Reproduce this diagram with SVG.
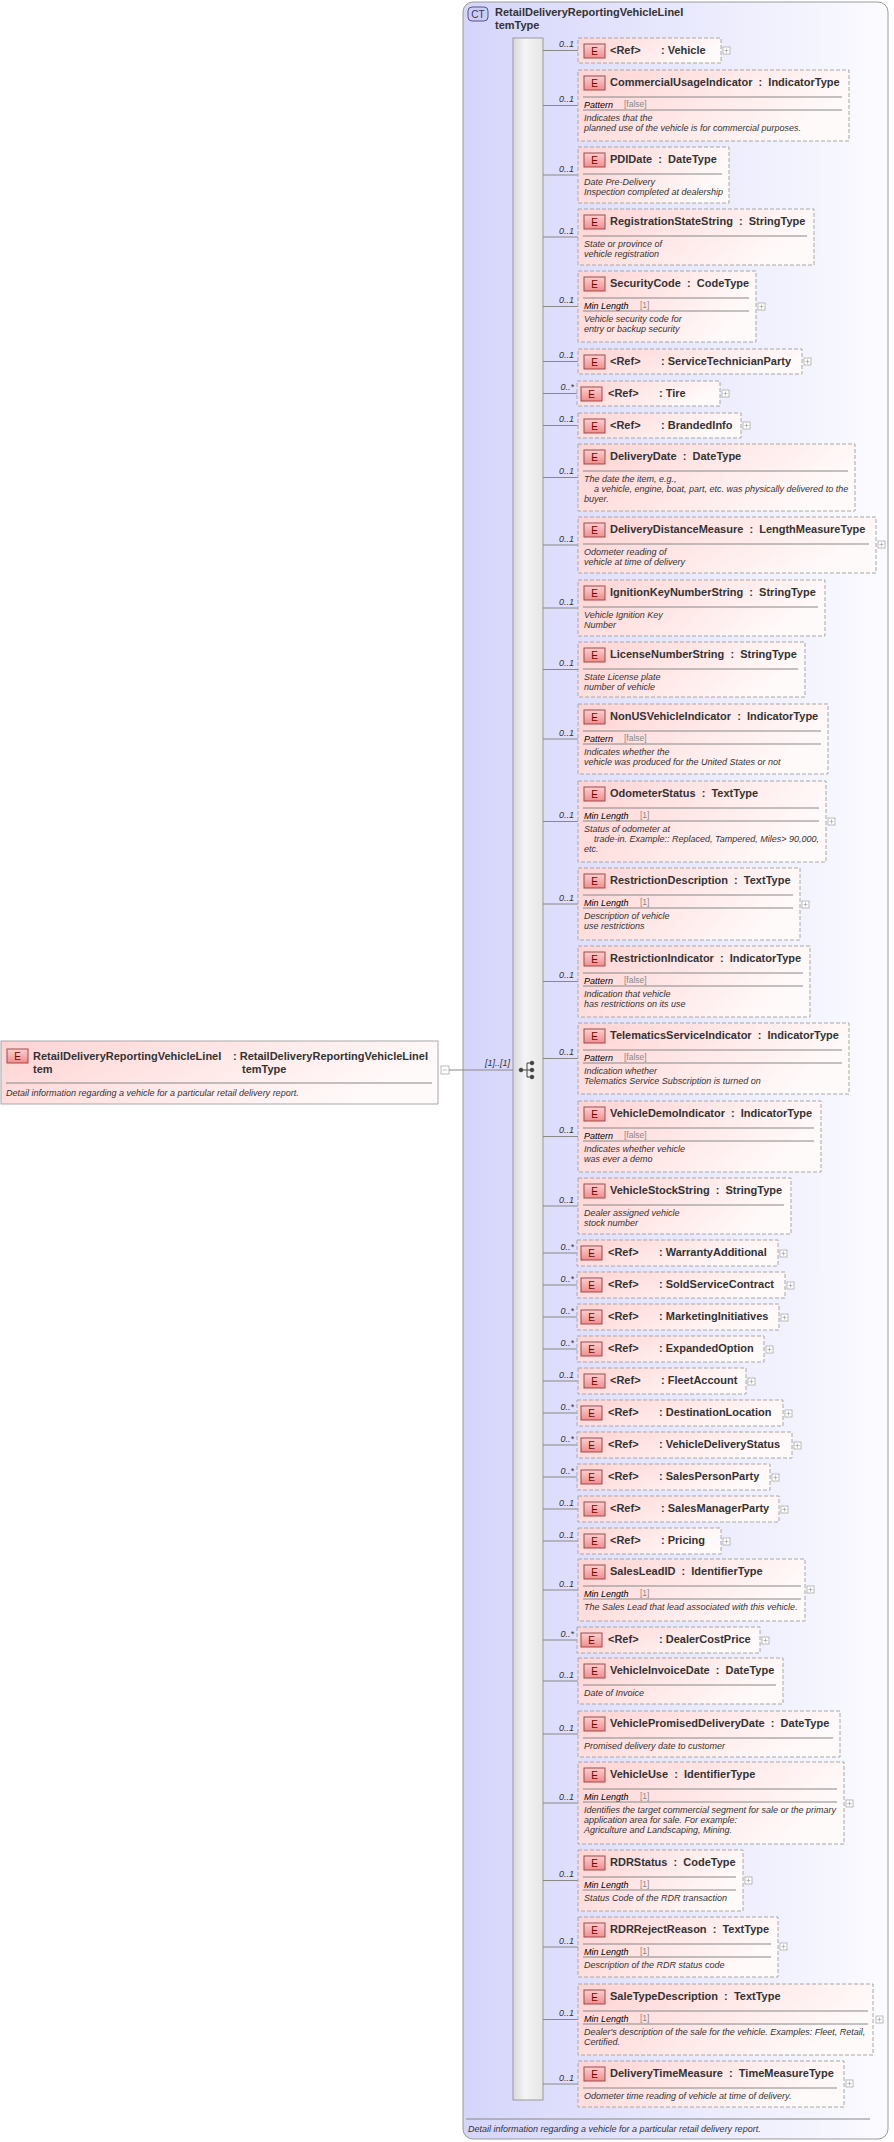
<svg xmlns="http://www.w3.org/2000/svg" width="894" height="2142" viewBox="0 0 894 2142">
<defs>
<linearGradient id="gb" x1="0" y1="0" x2="1" y2="0.3"><stop offset="0" stop-color="#ffd3d3"/><stop offset="1" stop-color="#fffafa"/></linearGradient>
<linearGradient id="ge" x1="0" y1="0" x2="0" y2="1"><stop offset="0" stop-color="#fbd0d0"/><stop offset="1" stop-color="#f08e8e"/></linearGradient>
<linearGradient id="gc" x1="0" y1="0" x2="1" y2="0"><stop offset="0" stop-color="#d5d5fb"/><stop offset="1" stop-color="#fbfbff"/></linearGradient>
<linearGradient id="gs" x1="0" y1="0" x2="1" y2="0"><stop offset="0" stop-color="#d8d8d8"/><stop offset="0.4" stop-color="#f4f4f4"/><stop offset="1" stop-color="#e6e6e6"/></linearGradient>
</defs>
<style>
text{font-family:"Liberation Sans",Arial,sans-serif;white-space:pre}
.bx{fill:url(#gb);stroke:#a8a8a8;stroke-dasharray:4,2;stroke-width:1}
.eb{fill:url(#ge);stroke:#a04848;stroke-width:1}
.e{font-size:10px;fill:#700;text-anchor:middle}
.t{font-size:11px;font-weight:bold;fill:#333}
.d{font-size:9px;font-style:italic;fill:#333}
.f{font-size:9px;font-style:italic;fill:#000}
.fv{font-size:8.5px;fill:#888}
.sp{stroke:#888;stroke-width:1}
.m{font-size:9px;font-style:italic;fill:#333;text-anchor:end}
.cn{stroke:#888;stroke-width:1;fill:none}
.pl{fill:#fff;stroke:#aaa;stroke-width:0.8}
.pp{stroke:#aaa;stroke-width:0.8}
</style>
<g id="ct">
<rect x="463" y="2" width="425" height="2137" rx="10" fill="url(#gc)" stroke="#9a9a9a"/>
<rect x="468" y="7" width="20" height="14" rx="4" fill="#ccccf5" stroke="#55558a"/>
<text x="478" y="18" font-size="10" fill="#33336a" text-anchor="middle">CT</text>
<text class="t" x="495" y="16">RetailDeliveryReportingVehicleLineI</text>
<text class="t" x="495" y="29">temType</text>
<line class="sp" x1="466" y1="2119" x2="870" y2="2119"/>
<text class="d" x="468" y="2132">Detail information regarding a vehicle for a particular retail delivery report.</text>
<rect x="513" y="38" width="30" height="2062" fill="url(#gs)" stroke="#999"/>
</g>
<g id="root">
<rect x="1" y="1041" width="437" height="63" fill="url(#gb)" stroke="#a8a8a8"/>
<rect class="eb" x="7" y="1049" width="21" height="14"/><text class="e" x="17.5" y="1060">E</text>
<text class="t" x="33" y="1060">RetailDeliveryReportingVehicleLineI</text>
<text class="t" x="33" y="1073">tem</text>
<text class="t" x="233" y="1060">: RetailDeliveryReportingVehicleLineI</text>
<text class="t" x="242" y="1073">temType</text>
<line class="sp" x1="6" y1="1083" x2="432" y2="1083"/>
<text class="d" x="6" y="1096">Detail information regarding a vehicle for a particular retail delivery report.</text>
<rect class="pl" x="441" y="1066" width="8" height="8"/><line class="pp" x1="443" y1="1070" x2="447" y2="1070"/>
</g>
<g id="connectors">
<line class="cn" x1="449" y1="1070" x2="513" y2="1070"/>
<text class="m" x="510" y="1066">[1]..[1]</text>
<g id="seq" fill="#444" stroke="#444">
<circle cx="521" cy="1070" r="1.8"/><line x1="521" y1="1070" x2="527" y2="1070"/><line x1="527" y1="1063" x2="527" y2="1077"/>
<line x1="527" y1="1063" x2="531" y2="1063"/><line x1="527" y1="1077" x2="531" y2="1077"/><line x1="527" y1="1070" x2="531" y2="1070"/>
<circle cx="532" cy="1063" r="1.8"/><circle cx="532" cy="1070" r="1.8"/><circle cx="532" cy="1077" r="1.8"/>
</g>
<path class="cn" d="M543 50.5H578M543 105.5H578M543 175H578M543 237H578M543 306.5H578M543 361.5H578M543 393.5H577M543 425.5H578M543 477.5H578M543 545H578M543 608H578M543 669.5H578M543 739H578M543 821.5H578M543 904H578M543 981.5H578M543 1058.5H578M543 1136.5H578M543 1206H578M543 1253H577M543 1285H577M543 1317H577M543 1349H577M543 1381H578M543 1413H577M543 1445H577M543 1477H577M543 1509H578M543 1541H578M543 1590H578M543 1640H577M543 1681H578M543 1734H578M543 1803H578M543 1880.5H578M543 1947H578M543 2019.5H578M543 2084H578"/>
<text class="m" x="574" y="47">0..1</text><text class="m" x="574" y="102">0..1</text><text class="m" x="574" y="172">0..1</text><text class="m" x="574" y="234">0..1</text><text class="m" x="574" y="303">0..1</text><text class="m" x="574" y="358">0..1</text><text class="m" x="574" y="390">0..*</text><text class="m" x="574" y="422">0..1</text><text class="m" x="574" y="474">0..1</text><text class="m" x="574" y="542">0..1</text><text class="m" x="574" y="605">0..1</text><text class="m" x="574" y="666">0..1</text><text class="m" x="574" y="736">0..1</text><text class="m" x="574" y="818">0..1</text><text class="m" x="574" y="901">0..1</text><text class="m" x="574" y="978">0..1</text><text class="m" x="574" y="1055">0..1</text><text class="m" x="574" y="1133">0..1</text><text class="m" x="574" y="1203">0..1</text><text class="m" x="574" y="1250">0..*</text><text class="m" x="574" y="1282">0..*</text><text class="m" x="574" y="1314">0..*</text><text class="m" x="574" y="1346">0..*</text><text class="m" x="574" y="1378">0..1</text><text class="m" x="574" y="1410">0..*</text><text class="m" x="574" y="1442">0..*</text><text class="m" x="574" y="1474">0..*</text><text class="m" x="574" y="1506">0..1</text><text class="m" x="574" y="1538">0..1</text><text class="m" x="574" y="1587">0..1</text><text class="m" x="574" y="1637">0..*</text><text class="m" x="574" y="1678">0..1</text><text class="m" x="574" y="1731">0..1</text><text class="m" x="574" y="1800">0..1</text><text class="m" x="574" y="1877">0..1</text><text class="m" x="574" y="1944">0..1</text><text class="m" x="574" y="2016">0..1</text><text class="m" x="574" y="2081">0..1</text>
</g>
<g id="n1"><rect class="bx" x="578" y="38" width="143" height="25"/><rect class="eb" x="584" y="44" width="21" height="14"/><text class="e" x="594.5" y="55">E</text><text class="t" x="610" y="54">&lt;Ref&gt;</text><text class="t" x="661" y="54">: Vehicle</text><rect class="pl" x="723" y="47" width="7" height="7"/><path class="pp" d="M724.5 50.5h4M726.5 48.5v4"/></g>
<g id="n2"><rect class="bx" x="578" y="70" width="271" height="71"/><rect class="eb" x="584" y="76" width="21" height="14"/><text class="e" x="594.5" y="87">E</text><text class="t" x="610" y="86">CommercialUsageIndicator  :  IndicatorType</text><line class="sp" x1="583" y1="97" x2="842" y2="97"/><text class="f" x="584" y="108">Pattern</text><text class="fv" x="624" y="107">[false]</text><line class="sp" x1="583" y1="110" x2="842" y2="110"/><text class="d" x="584" y="121">Indicates that the</text><text class="d" x="584" y="131">planned use of the vehicle is for commercial purposes.</text></g>
<g id="n3"><rect class="bx" x="578" y="147" width="151" height="56"/><rect class="eb" x="584" y="153" width="21" height="14"/><text class="e" x="594.5" y="164">E</text><text class="t" x="610" y="163">PDIDate  :  DateType</text><line class="sp" x1="583" y1="174" x2="722" y2="174"/><text class="d" x="584" y="185">Date Pre-Delivery</text><text class="d" x="584" y="195">Inspection completed at dealership</text></g>
<g id="n4"><rect class="bx" x="578" y="209" width="236" height="56"/><rect class="eb" x="584" y="215" width="21" height="14"/><text class="e" x="594.5" y="226">E</text><text class="t" x="610" y="225">RegistrationStateString  :  StringType</text><line class="sp" x1="583" y1="236" x2="807" y2="236"/><text class="d" x="584" y="247">State or province of</text><text class="d" x="584" y="257">vehicle registration</text></g>
<g id="n5"><rect class="bx" x="578" y="271" width="178" height="71"/><rect class="eb" x="584" y="277" width="21" height="14"/><text class="e" x="594.5" y="288">E</text><text class="t" x="610" y="287">SecurityCode  :  CodeType</text><line class="sp" x1="583" y1="298" x2="749" y2="298"/><text class="f" x="584" y="309">Min Length</text><text class="fv" x="640" y="308">[1]</text><line class="sp" x1="583" y1="311" x2="749" y2="311"/><text class="d" x="584" y="322">Vehicle security code for</text><text class="d" x="584" y="332">entry or backup security</text><rect class="pl" x="758" y="303" width="7" height="7"/><path class="pp" d="M759.5 306.5h4M761.5 304.5v4"/></g>
<g id="n6"><rect class="bx" x="578" y="349" width="224" height="25"/><rect class="eb" x="584" y="355" width="21" height="14"/><text class="e" x="594.5" y="366">E</text><text class="t" x="610" y="365">&lt;Ref&gt;</text><text class="t" x="661" y="365">: ServiceTechnicianParty</text><rect class="pl" x="804" y="358" width="7" height="7"/><path class="pp" d="M805.5 361.5h4M807.5 359.5v4"/></g>
<g id="n7"><rect class="bx" x="577" y="381" width="143" height="25"/><rect class="eb" x="581" y="387" width="21" height="14"/><text class="e" x="591.5" y="398">E</text><text class="t" x="608" y="397">&lt;Ref&gt;</text><text class="t" x="659" y="397">: Tire</text><rect class="pl" x="722" y="390" width="7" height="7"/><path class="pp" d="M723.5 393.5h4M725.5 391.5v4"/></g>
<g id="n8"><rect class="bx" x="578" y="413" width="163" height="25"/><rect class="eb" x="584" y="419" width="21" height="14"/><text class="e" x="594.5" y="430">E</text><text class="t" x="610" y="429">&lt;Ref&gt;</text><text class="t" x="661" y="429">: BrandedInfo</text><rect class="pl" x="743" y="422" width="7" height="7"/><path class="pp" d="M744.5 425.5h4M746.5 423.5v4"/></g>
<g id="n9"><rect class="bx" x="578" y="444" width="277" height="67"/><rect class="eb" x="584" y="450" width="21" height="14"/><text class="e" x="594.5" y="461">E</text><text class="t" x="610" y="460">DeliveryDate  :  DateType</text><line class="sp" x1="583" y1="471" x2="848" y2="471"/><text class="d" x="584" y="482">The date the item, e.g.,</text><text class="d" x="584" y="492">    a vehicle, engine, boat, part, etc. was physically delivered to the</text><text class="d" x="584" y="502">buyer.</text></g>
<g id="n10"><rect class="bx" x="578" y="517" width="298" height="56"/><rect class="eb" x="584" y="523" width="21" height="14"/><text class="e" x="594.5" y="534">E</text><text class="t" x="610" y="533">DeliveryDistanceMeasure  :  LengthMeasureType</text><line class="sp" x1="583" y1="544" x2="869" y2="544"/><text class="d" x="584" y="555">Odometer reading of</text><text class="d" x="584" y="565">vehicle at time of delivery</text><rect class="pl" x="878" y="541" width="7" height="7"/><path class="pp" d="M879.5 544.5h4M881.5 542.5v4"/></g>
<g id="n11"><rect class="bx" x="578" y="580" width="247" height="56"/><rect class="eb" x="584" y="586" width="21" height="14"/><text class="e" x="594.5" y="597">E</text><text class="t" x="610" y="596">IgnitionKeyNumberString  :  StringType</text><line class="sp" x1="583" y1="607" x2="818" y2="607"/><text class="d" x="584" y="618">Vehicle Ignition Key</text><text class="d" x="584" y="628">Number</text></g>
<g id="n12"><rect class="bx" x="578" y="642" width="227" height="55"/><rect class="eb" x="584" y="648" width="21" height="14"/><text class="e" x="594.5" y="659">E</text><text class="t" x="610" y="658">LicenseNumberString  :  StringType</text><line class="sp" x1="583" y1="669" x2="798" y2="669"/><text class="d" x="584" y="680">State License plate</text><text class="d" x="584" y="690">number of vehicle</text></g>
<g id="n13"><rect class="bx" x="578" y="704" width="250" height="70"/><rect class="eb" x="584" y="710" width="21" height="14"/><text class="e" x="594.5" y="721">E</text><text class="t" x="610" y="720">NonUSVehicleIndicator  :  IndicatorType</text><line class="sp" x1="583" y1="731" x2="821" y2="731"/><text class="f" x="584" y="742">Pattern</text><text class="fv" x="624" y="741">[false]</text><line class="sp" x1="583" y1="744" x2="821" y2="744"/><text class="d" x="584" y="755">Indicates whether the</text><text class="d" x="584" y="765">vehicle was produced for the United States or not</text></g>
<g id="n14"><rect class="bx" x="578" y="781" width="248" height="81"/><rect class="eb" x="584" y="787" width="21" height="14"/><text class="e" x="594.5" y="798">E</text><text class="t" x="610" y="797">OdometerStatus  :  TextType</text><line class="sp" x1="583" y1="808" x2="819" y2="808"/><text class="f" x="584" y="819">Min Length</text><text class="fv" x="640" y="818">[1]</text><line class="sp" x1="583" y1="821" x2="819" y2="821"/><text class="d" x="584" y="832">Status of odometer at</text><text class="d" x="584" y="842">    trade-in. Example:: Replaced, Tampered, Miles&gt; 90,000,</text><text class="d" x="584" y="852">etc.</text><rect class="pl" x="828" y="818" width="7" height="7"/><path class="pp" d="M829.5 821.5h4M831.5 819.5v4"/></g>
<g id="n15"><rect class="bx" x="578" y="868" width="222" height="72"/><rect class="eb" x="584" y="874" width="21" height="14"/><text class="e" x="594.5" y="885">E</text><text class="t" x="610" y="884">RestrictionDescription  :  TextType</text><line class="sp" x1="583" y1="895" x2="793" y2="895"/><text class="f" x="584" y="906">Min Length</text><text class="fv" x="640" y="905">[1]</text><line class="sp" x1="583" y1="908" x2="793" y2="908"/><text class="d" x="584" y="919">Description of vehicle</text><text class="d" x="584" y="929">use restrictions</text><rect class="pl" x="802" y="901" width="7" height="7"/><path class="pp" d="M803.5 904.5h4M805.5 902.5v4"/></g>
<g id="n16"><rect class="bx" x="578" y="946" width="232" height="71"/><rect class="eb" x="584" y="952" width="21" height="14"/><text class="e" x="594.5" y="963">E</text><text class="t" x="610" y="962">RestrictionIndicator  :  IndicatorType</text><line class="sp" x1="583" y1="973" x2="803" y2="973"/><text class="f" x="584" y="984">Pattern</text><text class="fv" x="624" y="983">[false]</text><line class="sp" x1="583" y1="986" x2="803" y2="986"/><text class="d" x="584" y="997">Indication that vehicle</text><text class="d" x="584" y="1007">has restrictions on its use</text></g>
<g id="n17"><rect class="bx" x="578" y="1023" width="271" height="71"/><rect class="eb" x="584" y="1029" width="21" height="14"/><text class="e" x="594.5" y="1040">E</text><text class="t" x="610" y="1039">TelematicsServiceIndicator  :  IndicatorType</text><line class="sp" x1="583" y1="1050" x2="842" y2="1050"/><text class="f" x="584" y="1061">Pattern</text><text class="fv" x="624" y="1060">[false]</text><line class="sp" x1="583" y1="1063" x2="842" y2="1063"/><text class="d" x="584" y="1074">Indication whether</text><text class="d" x="584" y="1084">Telematics Service Subscription is turned on</text></g>
<g id="n18"><rect class="bx" x="578" y="1101" width="243" height="71"/><rect class="eb" x="584" y="1107" width="21" height="14"/><text class="e" x="594.5" y="1118">E</text><text class="t" x="610" y="1117">VehicleDemoIndicator  :  IndicatorType</text><line class="sp" x1="583" y1="1128" x2="814" y2="1128"/><text class="f" x="584" y="1139">Pattern</text><text class="fv" x="624" y="1138">[false]</text><line class="sp" x1="583" y1="1141" x2="814" y2="1141"/><text class="d" x="584" y="1152">Indicates whether vehicle</text><text class="d" x="584" y="1162">was ever a demo</text></g>
<g id="n19"><rect class="bx" x="578" y="1178" width="213" height="56"/><rect class="eb" x="584" y="1184" width="21" height="14"/><text class="e" x="594.5" y="1195">E</text><text class="t" x="610" y="1194">VehicleStockString  :  StringType</text><line class="sp" x1="583" y1="1205" x2="784" y2="1205"/><text class="d" x="584" y="1216">Dealer assigned vehicle</text><text class="d" x="584" y="1226">stock number</text></g>
<g id="n20"><rect class="bx" x="577" y="1240" width="201" height="26"/><rect class="eb" x="581" y="1246" width="21" height="14"/><text class="e" x="591.5" y="1257">E</text><text class="t" x="608" y="1256">&lt;Ref&gt;</text><text class="t" x="659" y="1256">: WarrantyAdditional</text><rect class="pl" x="780" y="1250" width="7" height="7"/><path class="pp" d="M781.5 1253.5h4M783.5 1251.5v4"/></g>
<g id="n21"><rect class="bx" x="577" y="1272" width="208" height="26"/><rect class="eb" x="581" y="1278" width="21" height="14"/><text class="e" x="591.5" y="1289">E</text><text class="t" x="608" y="1288">&lt;Ref&gt;</text><text class="t" x="659" y="1288">: SoldServiceContract</text><rect class="pl" x="787" y="1282" width="7" height="7"/><path class="pp" d="M788.5 1285.5h4M790.5 1283.5v4"/></g>
<g id="n22"><rect class="bx" x="577" y="1304" width="202" height="26"/><rect class="eb" x="581" y="1310" width="21" height="14"/><text class="e" x="591.5" y="1321">E</text><text class="t" x="608" y="1320">&lt;Ref&gt;</text><text class="t" x="659" y="1320">: MarketingInitiatives</text><rect class="pl" x="781" y="1314" width="7" height="7"/><path class="pp" d="M782.5 1317.5h4M784.5 1315.5v4"/></g>
<g id="n23"><rect class="bx" x="577" y="1336" width="187" height="26"/><rect class="eb" x="581" y="1342" width="21" height="14"/><text class="e" x="591.5" y="1353">E</text><text class="t" x="608" y="1352">&lt;Ref&gt;</text><text class="t" x="659" y="1352">: ExpandedOption</text><rect class="pl" x="766" y="1346" width="7" height="7"/><path class="pp" d="M767.5 1349.5h4M769.5 1347.5v4"/></g>
<g id="n24"><rect class="bx" x="578" y="1368" width="168" height="26"/><rect class="eb" x="584" y="1374" width="21" height="14"/><text class="e" x="594.5" y="1385">E</text><text class="t" x="610" y="1384">&lt;Ref&gt;</text><text class="t" x="661" y="1384">: FleetAccount</text><rect class="pl" x="748" y="1378" width="7" height="7"/><path class="pp" d="M749.5 1381.5h4M751.5 1379.5v4"/></g>
<g id="n25"><rect class="bx" x="577" y="1400" width="206" height="26"/><rect class="eb" x="581" y="1406" width="21" height="14"/><text class="e" x="591.5" y="1417">E</text><text class="t" x="608" y="1416">&lt;Ref&gt;</text><text class="t" x="659" y="1416">: DestinationLocation</text><rect class="pl" x="785" y="1410" width="7" height="7"/><path class="pp" d="M786.5 1413.5h4M788.5 1411.5v4"/></g>
<g id="n26"><rect class="bx" x="577" y="1432" width="215" height="26"/><rect class="eb" x="581" y="1438" width="21" height="14"/><text class="e" x="591.5" y="1449">E</text><text class="t" x="608" y="1448">&lt;Ref&gt;</text><text class="t" x="659" y="1448">: VehicleDeliveryStatus</text><rect class="pl" x="794" y="1442" width="7" height="7"/><path class="pp" d="M795.5 1445.5h4M797.5 1443.5v4"/></g>
<g id="n27"><rect class="bx" x="577" y="1464" width="193" height="26"/><rect class="eb" x="581" y="1470" width="21" height="14"/><text class="e" x="591.5" y="1481">E</text><text class="t" x="608" y="1480">&lt;Ref&gt;</text><text class="t" x="659" y="1480">: SalesPersonParty</text><rect class="pl" x="772" y="1474" width="7" height="7"/><path class="pp" d="M773.5 1477.5h4M775.5 1475.5v4"/></g>
<g id="n28"><rect class="bx" x="578" y="1496" width="201" height="26"/><rect class="eb" x="584" y="1502" width="21" height="14"/><text class="e" x="594.5" y="1513">E</text><text class="t" x="610" y="1512">&lt;Ref&gt;</text><text class="t" x="661" y="1512">: SalesManagerParty</text><rect class="pl" x="781" y="1506" width="7" height="7"/><path class="pp" d="M782.5 1509.5h4M784.5 1507.5v4"/></g>
<g id="n29"><rect class="bx" x="578" y="1528" width="143" height="26"/><rect class="eb" x="584" y="1534" width="21" height="14"/><text class="e" x="594.5" y="1545">E</text><text class="t" x="610" y="1544">&lt;Ref&gt;</text><text class="t" x="661" y="1544">: Pricing</text><rect class="pl" x="723" y="1538" width="7" height="7"/><path class="pp" d="M724.5 1541.5h4M726.5 1539.5v4"/></g>
<g id="n30"><rect class="bx" x="578" y="1559" width="227" height="62"/><rect class="eb" x="584" y="1565" width="21" height="14"/><text class="e" x="594.5" y="1576">E</text><text class="t" x="610" y="1575">SalesLeadID  :  IdentifierType</text><line class="sp" x1="583" y1="1586" x2="801" y2="1586"/><text class="f" x="584" y="1597">Min Length</text><text class="fv" x="640" y="1596">[1]</text><line class="sp" x1="583" y1="1599" x2="801" y2="1599"/><text class="d" x="584" y="1610">The Sales Lead that lead associated with this vehicle.</text><rect class="pl" x="807" y="1586" width="7" height="7"/><path class="pp" d="M808.5 1589.5h4M810.5 1587.5v4"/></g>
<g id="n31"><rect class="bx" x="577" y="1627" width="183" height="26"/><rect class="eb" x="581" y="1633" width="21" height="14"/><text class="e" x="591.5" y="1644">E</text><text class="t" x="608" y="1643">&lt;Ref&gt;</text><text class="t" x="659" y="1643">: DealerCostPrice</text><rect class="pl" x="762" y="1637" width="7" height="7"/><path class="pp" d="M763.5 1640.5h4M765.5 1638.5v4"/></g>
<g id="n32"><rect class="bx" x="578" y="1658" width="205" height="46"/><rect class="eb" x="584" y="1664" width="21" height="14"/><text class="e" x="594.5" y="1675">E</text><text class="t" x="610" y="1674">VehicleInvoiceDate  :  DateType</text><line class="sp" x1="583" y1="1685" x2="776" y2="1685"/><text class="d" x="584" y="1696">Date of Invoice</text></g>
<g id="n33"><rect class="bx" x="578" y="1711" width="262" height="46"/><rect class="eb" x="584" y="1717" width="21" height="14"/><text class="e" x="594.5" y="1728">E</text><text class="t" x="610" y="1727">VehiclePromisedDeliveryDate  :  DateType</text><line class="sp" x1="583" y1="1738" x2="833" y2="1738"/><text class="d" x="584" y="1749">Promised delivery date to customer</text></g>
<g id="n34"><rect class="bx" x="578" y="1762" width="266" height="82"/><rect class="eb" x="584" y="1768" width="21" height="14"/><text class="e" x="594.5" y="1779">E</text><text class="t" x="610" y="1778">VehicleUse  :  IdentifierType</text><line class="sp" x1="583" y1="1789" x2="837" y2="1789"/><text class="f" x="584" y="1800">Min Length</text><text class="fv" x="640" y="1799">[1]</text><line class="sp" x1="583" y1="1802" x2="837" y2="1802"/><text class="d" x="584" y="1813">Identifies the target commercial segment for sale or the primary</text><text class="d" x="584" y="1823">application area for sale. For example:</text><text class="d" x="584" y="1833">Agriculture and Landscaping, Mining.</text><rect class="pl" x="846" y="1800" width="7" height="7"/><path class="pp" d="M847.5 1803.5h4M849.5 1801.5v4"/></g>
<g id="n35"><rect class="bx" x="578" y="1850" width="165" height="61"/><rect class="eb" x="584" y="1856" width="21" height="14"/><text class="e" x="594.5" y="1867">E</text><text class="t" x="610" y="1866">RDRStatus  :  CodeType</text><line class="sp" x1="583" y1="1877" x2="736" y2="1877"/><text class="f" x="584" y="1888">Min Length</text><text class="fv" x="640" y="1887">[1]</text><line class="sp" x1="583" y1="1890" x2="736" y2="1890"/><text class="d" x="584" y="1901">Status Code of the RDR transaction</text><rect class="pl" x="745" y="1877" width="7" height="7"/><path class="pp" d="M746.5 1880.5h4M748.5 1878.5v4"/></g>
<g id="n36"><rect class="bx" x="578" y="1917" width="200" height="60"/><rect class="eb" x="584" y="1923" width="21" height="14"/><text class="e" x="594.5" y="1934">E</text><text class="t" x="610" y="1933">RDRRejectReason  :  TextType</text><line class="sp" x1="583" y1="1944" x2="771" y2="1944"/><text class="f" x="584" y="1955">Min Length</text><text class="fv" x="640" y="1954">[1]</text><line class="sp" x1="583" y1="1957" x2="771" y2="1957"/><text class="d" x="584" y="1968">Description of the RDR status code</text><rect class="pl" x="780" y="1943" width="7" height="7"/><path class="pp" d="M781.5 1946.5h4M783.5 1944.5v4"/></g>
<g id="n37"><rect class="bx" x="578" y="1984" width="295" height="71"/><rect class="eb" x="584" y="1990" width="21" height="14"/><text class="e" x="594.5" y="2001">E</text><text class="t" x="610" y="2000">SaleTypeDescription  :  TextType</text><line class="sp" x1="583" y1="2011" x2="868" y2="2011"/><text class="f" x="584" y="2022">Min Length</text><text class="fv" x="640" y="2021">[1]</text><line class="sp" x1="583" y1="2024" x2="868" y2="2024"/><text class="d" x="584" y="2035">Dealer's description of the sale for the vehicle. Examples: Fleet, Retail,</text><text class="d" x="584" y="2045">Certified.</text><rect class="pl" x="876" y="2016" width="7" height="7"/><path class="pp" d="M877.5 2019.5h4M879.5 2017.5v4"/></g>
<g id="n38"><rect class="bx" x="578" y="2061" width="266" height="46"/><rect class="eb" x="584" y="2067" width="21" height="14"/><text class="e" x="594.5" y="2078">E</text><text class="t" x="610" y="2077">DeliveryTimeMeasure  :  TimeMeasureType</text><line class="sp" x1="583" y1="2088" x2="837" y2="2088"/><text class="d" x="584" y="2099">Odometer time reading of vehicle at time of delivery.</text><rect class="pl" x="846" y="2080" width="7" height="7"/><path class="pp" d="M847.5 2083.5h4M849.5 2081.5v4"/></g>
</svg>
